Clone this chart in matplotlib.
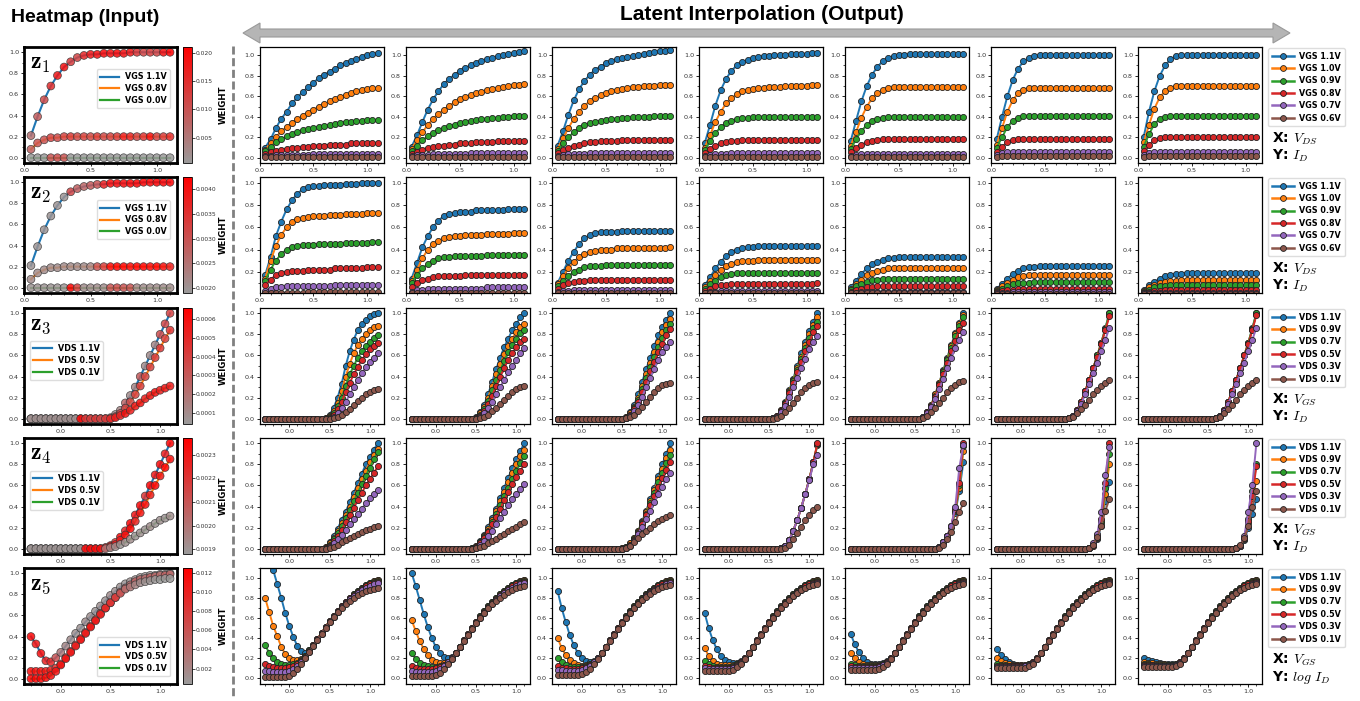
import numpy as np
import matplotlib
matplotlib.use("Agg")
import matplotlib.pyplot as plt
from matplotlib.colors import LinearSegmentedColormap, Normalize
from matplotlib.ticker import MultipleLocator, AutoMinorLocator, FormatStrFormatter
from matplotlib.lines import Line2D
from matplotlib.patches import Polygon
from matplotlib.cm import ScalarMappable

plt.rcParams['mathtext.fontset'] = 'cm'
plt.rcParams['font.family'] = ['DejaVu Sans']

# ------------------------------------------------------------------ data
VDS = [0.05, 0.10, 0.15, 0.20, 0.25, 0.30, 0.35, 0.40, 0.45, 0.50, 0.55,
       0.60, 0.65, 0.70, 0.75, 0.80, 0.85, 0.90, 0.95, 1.00, 1.05, 1.10]
VGS = [-0.30, -0.25, -0.20, -0.15, -0.10, -0.05, 0.00, 0.05, 0.10, 0.15,
       0.20, 0.25, 0.30, 0.35, 0.40, 0.45, 0.50, 0.55, 0.60, 0.65, 0.70,
       0.75, 0.80, 0.85, 0.90, 0.95, 1.00, 1.05, 1.10]

OUT_VGS_LABELS = ['VGS 1.1V', 'VGS 1.0V', 'VGS 0.9V', 'VGS 0.8V', 'VGS 0.7V', 'VGS 0.6V']
OUT_VDS_LABELS = ['VDS 1.1V', 'VDS 0.9V', 'VDS 0.7V', 'VDS 0.5V', 'VDS 0.3V', 'VDS 0.1V']
HM_VGS_LABELS = ['VGS 1.1V', 'VGS 0.8V', 'VGS 0.0V']
HM_VDS_LABELS = ['VDS 1.1V', 'VDS 0.5V', 'VDS 0.1V']

# values in percent of normalised current (y*100)
# ---- row 1 : ID vs VDS
R1P1 = [[10,18,29,38,45,53,59,64,69,73, 78,81,84,87,90,92,94,96,98,100, 101,102],
        [8,14,20,26,30,34,38,41,44,47, 50,52,55,57,59,61,63,65,66,67, 68,68],
        [7,11,15,18,21,23,25,27,28,29, 30,31,32,33,34,35,35,36,36,37, 37,37],
        [4,6,7,8,9,10,10,11,11,12, 12,12,13,13,13,13,14,14,14,14, 14,14],
        [2,2,3,3,3,3,3,3,3,4, 4,4,4,4,4,4,4,4,4,4, 4,4],
        [1,1,1,1,1,1,1,1,1,1, 1,1,1,1,1,1,1,1,1,1, 1,1]]
R1P2 = [[11,22,35,47,57,65,72,77,81,85, 88,90,92,94,96,97,99,100,101,102, 103,104],
        [9,17,25,32,38,43,47,51,54,57, 59,61,63,64,66,67,68,69,70,71, 71,72],
        [7,12,17,21,24,27,29,31,32,34, 35,36,37,38,38,39,39,40,40,41, 41,41],
        [4,6,8,10,11,12,12,13,13,14, 14,14,15,15,15,15,16,16,16,16, 16,16],
        [2,3,3,3,4,4,4,4,4,4, 4,5,5,5,5,5,5,5,5,5, 5,5],
        [1,1,1,1,1,1,1,1,1,1, 1,1,1,1,1,1,1,1,1,1, 1,1]]
R1P3 = [[12,26,42,56,67,75,81,86,89,92, 94,96,97,98,99,100,101,102,103,104, 104,105],
        [9,19,29,38,45,51,55,58,61,63, 65,66,67,68,69,69,70,70,70,71, 71,71],
        [7,14,20,25,29,32,34,35,36,37, 38,38,39,39,40,40,40,40,41,41, 41,41],
        [5,8,10,12,13,14,15,15,16,16, 16,16,17,17,17,17,17,17,17,17, 17,17],
        [2,3,4,4,4,4,5,5,5,5, 5,5,5,5,5,5,5,5,5,5, 5,5],
        [1,1,1,1,1,1,1,1,1,1, 1,1,1,1,1,1,1,1,1,1, 1,1]]
R1P4 = [[14,32,51,66,77,85,90,93,95,97, 98,99,99,100,100,100,101,101,101,101, 102,102],
        [10,22,35,45,53,58,62,65,66,67, 68,68,69,69,69,70,70,70,70,70, 71,71],
        [8,16,24,30,34,36,38,39,39,40, 40,40,40,40,40,40,40,40,40,40, 40,40],
        [5,9,12,14,15,16,16,17,17,17, 17,17,17,17,17,17,17,17,17,17, 17,17],
        [2,3,4,4,4,5,5,5,5,5, 5,5,5,5,5,5,5,5,5,5, 5,5],
        [1,1,1,1,1,1,1,1,1,1, 1,1,1,1,1,1,1,1,1,1, 1,1]]
R1P5 = [[16,36,55,70,81,89,94,97,99,100, 100,101,101,101,101,101,101,101,101,101, 101,101],
        [12,25,39,50,58,63,66,68,69,69, 69,69,69,69,69,69,69,69,69,69, 69,69],
        [9,18,26,32,36,38,39,40,40,40, 40,40,40,40,40,40,40,40,40,40, 40,40],
        [6,10,13,15,16,17,18,18,18,18, 18,18,18,18,18,18,18,18,18,18, 18,18],
        [2,3,4,4,4,4,4,4,4,4, 4,4,4,4,4,4,4,4,4,4, 4,4],
        [1,1,1,1,1,1,1,1,1,1, 1,1,1,1,1,1,1,1,1,1, 1,1]]
R1P6 = [[18,40,60,76,87,94,97,99,100,100, 100,100,100,100,100,100,100,100,100,100, 100,100],
        [13,29,45,56,63,66,68,68,68,68, 68,68,68,68,68,68,68,68,68,68, 68,68],
        [10,20,30,36,39,41,41,41,41,41, 41,41,41,41,41,41,41,41,41,41, 41,41],
        [6,11,15,17,18,18,18,18,18,18, 18,18,18,18,18,18,18,18,18,18, 18,18],
        [3,5,6,6,6,6,6,6,6,6, 6,6,6,6,6,6,6,6,6,6, 6,6],
        [1,2,2,2,2,2,2,2,2,2, 2,2,2,2,2,2,2,2,2,2, 2,2]]
R1P7 = [[20,45,65,80,90,96,99,100,100,100, 100,100,100,100,100,100,100,100,100,100, 100,100],
        [15,32,48,59,65,68,70,70,70,70, 70,70,70,70,70,70,70,70,70,70, 70,70],
        [11,23,33,38,40,41,41,41,41,41, 41,41,41,41,41,41,41,41,41,41, 41,41],
        [7,13,17,19,20,20,20,20,20,20, 20,20,20,20,20,20,20,20,20,20, 20,20],
        [3,5,6,6,6,6,6,6,6,6, 6,6,6,6,6,6,6,6,6,6, 6,6],
        [1,2,2,2,2,2,2,2,2,2, 2,2,2,2,2,2,2,2,2,2, 2,2]]

# ---- row 2 : ID vs VDS (decreasing scale)
R2P1 = [[17,33,52,65,76,84,90,94,96,97, 97,98,98,98,98,99,99,99,100,100, 100,100],
        [14,30,43,53,60,65,67,68,69,70, 70,70,71,71,71,72,72,72,72,73, 73,73],
        [12,22,30,36,40,42,43,44,44,44, 45,45,45,45,45,46,46,46,46,46, 47,47],
        [8,13,17,19,20,21,21,21,22,22, 22,22,22,23,23,23,23,23,23,24, 24,24],
        [3,5,6,6,7,7,7,7,7,7, 7,7,7,8,8,8,8,8,8,8, 8,8],
        [1,1,1,1,1,1,1,1,2,2, 2,2,2,2,2,2,2,2,2,2, 2,2]]
R2P2 = [[14,28,42,52,60,66,70,72,73,74, 74,74,75,75,75,75,75,75,76,76, 76,76],
        [12,22,32,40,45,48,50,51,52,52, 53,53,53,53,54,54,54,54,54,55, 55,55],
        [10,17,23,27,30,32,33,33,34,34, 34,34,34,34,35,35,35,35,35,35, 35,35],
        [6,10,13,14,15,16,16,16,16,16, 17,17,17,17,17,17,17,17,17,17, 17,17],
        [2,4,4,5,5,5,5,5,5,5, 5,5,5,5,6,6,6,6,6,6, 6,6],
        [1,1,1,1,1,1,1,1,1,1, 1,1,1,1,1,1,1,1,1,1, 1,1]]
R2P3 = [[10,20,30,38,45,50,53,55,56,56, 56,56,57,57,57,57,57,57,57,57, 57,57],
        [9,16,23,29,33,36,38,39,40,40, 40,41,41,41,41,41,41,41,41,41, 41,42],
        [7,12,16,20,22,24,25,25,25,26, 26,26,26,26,26,26,26,26,26,26, 26,26],
        [5,8,10,11,12,12,13,13,13,13, 13,13,13,13,13,13,13,13,13,13, 13,13],
        [2,3,3,4,4,4,4,4,4,4, 4,4,4,4,4,4,4,4,4,4, 4,4],
        [1,1,1,1,1,1,1,1,1,1, 1,1,1,1,1,1,1,1,1,1, 1,1]]
R2P4 = [[8,15,23,29,34,38,40,41,42,42, 43,43,43,43,43,43,43,43,43,43, 43,43],
        [6,12,17,22,25,27,29,30,30,30, 31,31,31,31,31,31,31,31,31,31, 31,31],
        [5,9,12,15,17,18,19,19,19,19, 19,19,19,19,19,19,19,19,19,19, 19,19],
        [3,5,7,8,8,9,9,9,9,9, 9,9,9,9,9,9,9,9,9,9, 9,10],
        [1,2,2,3,3,3,3,3,3,3, 3,3,3,3,3,3,3,3,3,3, 3,3],
        [1,1,1,1,1,1,1,1,1,1, 1,1,1,1,1,1,1,1,1,1, 1,1]]
R2P5 = [[6,12,18,23,27,29,31,32,32,33, 33,33,33,33,33,33,33,33,33,33, 33,33],
        [5,9,13,17,19,21,22,23,23,23, 23,23,23,23,23,23,23,23,23,23, 23,23],
        [4,7,9,11,13,13,14,14,14,14, 14,14,14,14,14,14,14,14,14,14, 14,14],
        [2,4,5,6,6,7,7,7,7,7, 7,7,7,7,7,7,7,7,7,7, 7,7],
        [1,1,2,2,2,2,2,2,2,2, 2,2,2,2,2,2,2,2,2,2, 2,2],
        [1,1,1,1,1,1,1,1,1,1, 1,1,1,1,1,1,1,1,1,1, 1,1]]
R2P6 = [[5,9,14,18,21,23,24,24,25,25, 25,25,25,25,25,25,25,25,25,25, 25,25],
        [4,7,10,13,15,16,17,17,17,17, 17,17,17,17,17,17,17,17,17,17, 17,17],
        [3,5,7,9,10,10,10,11,11,11, 11,11,11,11,11,11,11,11,11,11, 11,11],
        [2,3,4,4,5,5,5,5,5,5, 5,5,5,5,5,5,5,5,5,5, 5,5],
        [1,1,1,2,2,2,2,2,2,2, 2,2,2,2,2,2,2,2,2,2, 2,2],
        [0,0,0,0,0,0,0,0,0,0, 0,0,0,0,0,0,0,0,0,0, 0,0]]
R2P7 = [[4,8,11,14,16,17,18,18,19,19, 19,19,19,19,19,19,19,19,19,19, 19,19],
        [3,6,8,10,11,12,12,13,13,13, 13,13,13,13,13,13,13,13,13,13, 13,13],
        [2,4,6,7,7,8,8,8,8,8, 8,8,8,8,8,8,8,8,8,8, 8,8],
        [1,2,3,3,4,4,4,4,4,4, 4,4,4,4,4,4,4,4,4,4, 4,4],
        [1,1,1,1,1,1,1,1,1,1, 1,1,1,1,1,1,1,1,1,1, 1,1],
        [0,0,0,0,0,0,0,0,0,0, 0,0,0,0,0,0,0,0,0,0, 0,0]]

# ---- row 3 : ID vs VGS
R3P1 = [[0,0,0,0,0,0,0,0,0,0,0,0,0,0,0, 1,4,10,20,33,50,64,75,84,90,94,97,99,100],
        [0,0,0,0,0,0,0,0,0,0,0,0,0,0,0, 1,3,7,15,26,40,52,62,70,76,80,84,87,88],
        [0,0,0,0,0,0,0,0,0,0,0,0,0,0,0, 0,2,5,12,20,31,42,50,58,64,69,73,77,79],
        [0,0,0,0,0,0,0,0,0,0,0,0,0,0,0, 0,1,4,9,16,25,34,42,49,56,61,66,69,72],
        [0,0,0,0,0,0,0,0,0,0,0,0,0,0,0, 0,0,2,5,10,16,23,30,37,43,49,54,58,62],
        [0,0,0,0,0,0,0,0,0,0,0,0,0,0,0, 0,0,1,2,4,6,9,13,17,20,23,25,27,28]]
R3P2 = [[0,0,0,0,0,0,0,0,0,0,0,0,0,0,0, 0,2,6,13,23,35,47,58,68,76,84,90,96,100],
        [0,0,0,0,0,0,0,0,0,0,0,0,0,0,0, 0,1,5,11,20,31,42,52,61,69,76,82,87,90],
        [0,0,0,0,0,0,0,0,0,0,0,0,0,0,0, 0,1,4,9,17,27,37,46,55,63,70,76,81,84],
        [0,0,0,0,0,0,0,0,0,0,0,0,0,0,0, 0,1,3,7,14,22,31,40,48,56,62,68,73,76],
        [0,0,0,0,0,0,0,0,0,0,0,0,0,0,0, 0,0,2,5,10,16,23,30,37,44,50,56,62,67],
        [0,0,0,0,0,0,0,0,0,0,0,0,0,0,0, 0,0,1,2,4,7,10,14,18,22,25,28,30,31]]
R3P3 = [[0,0,0,0,0,0,0,0,0,0,0,0,0,0,0, 0,0,2,6,13,23,35,47,58,69,79,87,94,100],
        [0,0,0,0,0,0,0,0,0,0,0,0,0,0,0, 0,0,2,5,11,20,31,42,53,63,73,82,89,95],
        [0,0,0,0,0,0,0,0,0,0,0,0,0,0,0, 0,0,1,4,10,18,28,39,49,59,68,77,84,90],
        [0,0,0,0,0,0,0,0,0,0,0,0,0,0,0, 0,0,1,4,9,16,25,35,45,54,63,71,79,85],
        [0,0,0,0,0,0,0,0,0,0,0,0,0,0,0, 0,0,1,3,7,13,21,30,39,47,56,63,68,73],
        [0,0,0,0,0,0,0,0,0,0,0,0,0,0,0, 0,0,1,2,4,7,11,16,21,25,29,32,33,34]]
R3P4 = [[0,0,0,0,0,0,0,0,0,0,0,0,0,0,0, 0,0,1,3,8,16,27,38,50,62,73,83,92,100],
        [0,0,0,0,0,0,0,0,0,0,0,0,0,0,0, 0,0,1,3,8,15,26,37,48,59,70,80,89,96],
        [0,0,0,0,0,0,0,0,0,0,0,0,0,0,0, 0,0,1,3,7,15,25,36,46,57,67,77,86,92],
        [0,0,0,0,0,0,0,0,0,0,0,0,0,0,0, 0,0,1,3,7,14,24,34,44,54,64,73,82,88],
        [0,0,0,0,0,0,0,0,0,0,0,0,0,0,0, 0,0,1,2,6,12,21,30,39,48,57,66,73,78],
        [0,0,0,0,0,0,0,0,0,0,0,0,0,0,0, 0,0,0,1,3,6,10,15,20,25,29,32,34,35]]
R3P5 = [[0,0,0,0,0,0,0,0,0,0,0,0,0,0,0, 0,0,0,2,6,13,23,34,46,58,70,81,91,100],
        [0,0,0,0,0,0,0,0,0,0,0,0,0,0,0, 0,0,0,2,6,13,23,34,45,57,69,80,90,98],
        [0,0,0,0,0,0,0,0,0,0,0,0,0,0,0, 0,0,0,2,6,12,22,33,44,56,67,78,88,96],
        [0,0,0,0,0,0,0,0,0,0,0,0,0,0,0, 0,0,0,2,6,12,21,32,42,53,64,74,84,91],
        [0,0,0,0,0,0,0,0,0,0,0,0,0,0,0, 0,0,0,2,5,11,19,28,38,48,58,67,75,82],
        [0,0,0,0,0,0,0,0,0,0,0,0,0,0,0, 0,0,0,1,3,6,10,15,20,25,29,32,35,36]]
R3P6 = [[0,0,0,0,0,0,0,0,0,0,0,0,0,0,0, 0,0,0,1,3,8,16,26,37,48,60,72,86,100],
        [0,0,0,0,0,0,0,0,0,0,0,0,0,0,0, 0,0,0,1,3,8,16,26,37,48,60,72,85,99],
        [0,0,0,0,0,0,0,0,0,0,0,0,0,0,0, 0,0,0,1,3,8,16,26,37,48,60,72,85,100],
        [0,0,0,0,0,0,0,0,0,0,0,0,0,0,0, 0,0,0,1,3,8,16,26,37,48,59,71,84,97],
        [0,0,0,0,0,0,0,0,0,0,0,0,0,0,0, 0,0,0,1,3,7,14,23,33,43,53,64,75,86],
        [0,0,0,0,0,0,0,0,0,0,0,0,0,0,0, 0,0,0,1,2,5,9,13,18,23,27,31,34,37]]
R3P7 = [[0,0,0,0,0,0,0,0,0,0,0,0,0,0,0, 0,0,0,1,3,8,16,26,37,48,60,72,86,100],
        [0,0,0,0,0,0,0,0,0,0,0,0,0,0,0, 0,0,0,1,3,8,16,26,37,48,60,72,85,99],
        [0,0,0,0,0,0,0,0,0,0,0,0,0,0,0, 0,0,0,1,3,8,16,26,37,48,60,72,85,100],
        [0,0,0,0,0,0,0,0,0,0,0,0,0,0,0, 0,0,0,1,3,8,16,26,37,48,60,71,84,98],
        [0,0,0,0,0,0,0,0,0,0,0,0,0,0,0, 0,0,0,1,3,7,14,23,33,43,53,64,75,86],
        [0,0,0,0,0,0,0,0,0,0,0,0,0,0,0, 0,0,0,1,2,5,9,13,18,23,27,31,34,37]]

# ---- row 4 : ID vs VGS
R4P1 = [[0,0,0,0,0,0,0,0,0,0,0,0,0,0,0, 2,6,12,19,27,35,44,53,62,71,80,87,94,100],
        [0,0,0,0,0,0,0,0,0,0,0,0,0,0,0, 2,5,10,17,24,32,40,49,58,66,74,82,89,95],
        [0,0,0,0,0,0,0,0,0,0,0,0,0,0,0, 1,4,9,15,22,29,37,45,53,61,69,77,85,92],
        [0,0,0,0,0,0,0,0,0,0,0,0,0,0,0, 1,3,7,12,18,25,32,39,46,53,60,66,72,78],
        [0,0,0,0,0,0,0,0,0,0,0,0,0,0,0, 0,2,5,9,13,18,23,28,33,38,43,48,52,56],
        [0,0,0,0,0,0,0,0,0,0,0,0,0,0,0, 0,1,2,4,6,8,10,12,14,16,18,19,21,22]]
R4P2 = [[0,0,0,0,0,0,0,0,0,0,0,0,0,0,0, 1,3,7,13,21,29,38,48,58,67,77,85,93,100],
        [0,0,0,0,0,0,0,0,0,0,0,0,0,0,0, 1,3,6,12,19,27,36,45,54,63,72,80,88,94],
        [0,0,0,0,0,0,0,0,0,0,0,0,0,0,0, 1,2,6,11,17,25,33,41,50,58,66,74,81,88],
        [0,0,0,0,0,0,0,0,0,0,0,0,0,0,0, 0,2,5,10,16,23,30,38,46,54,61,68,74,80],
        [0,0,0,0,0,0,0,0,0,0,0,0,0,0,0, 0,1,4,7,12,17,23,29,35,41,47,52,57,61],
        [0,0,0,0,0,0,0,0,0,0,0,0,0,0,0, 0,1,2,3,5,7,9,12,14,17,19,21,23,25]]
R4P3 = [[0,0,0,0,0,0,0,0,0,0,0,0,0,0,0, 0,1,2,5,10,17,26,36,47,58,69,80,90,100],
        [0,0,0,0,0,0,0,0,0,0,0,0,0,0,0, 0,1,2,5,10,17,25,35,45,56,66,76,86,94],
        [0,0,0,0,0,0,0,0,0,0,0,0,0,0,0, 0,0,2,4,9,16,24,33,43,53,63,72,81,89],
        [0,0,0,0,0,0,0,0,0,0,0,0,0,0,0, 0,0,1,4,8,15,23,32,41,50,59,67,75,82],
        [0,0,0,0,0,0,0,0,0,0,0,0,0,0,0, 0,0,1,3,7,14,21,28,36,44,52,59,66,72],
        [0,0,0,0,0,0,0,0,0,0,0,0,0,0,0, 0,0,1,3,6,10,14,17,20,23,26,28,30,32]]
R4P4 = [[0,0,0,0,0,0,0,0,0,0,0,0,0,0,0, 0,0,0,0,1,3,8,17,27,39,52,66,82,98],
        [0,0,0,0,0,0,0,0,0,0,0,0,0,0,0, 0,0,0,0,1,3,8,17,27,39,52,66,82,99],
        [0,0,0,0,0,0,0,0,0,0,0,0,0,0,0, 0,0,0,0,1,3,8,17,27,39,52,66,82,99],
        [0,0,0,0,0,0,0,0,0,0,0,0,0,0,0, 0,0,0,0,1,3,8,17,27,39,52,66,82,100],
        [0,0,0,0,0,0,0,0,0,0,0,0,0,0,0, 0,0,0,0,1,3,8,17,27,39,52,65,80,89],
        [0,0,0,0,0,0,0,0,0,0,0,0,0,0,0, 0,0,0,0,0,1,4,9,15,21,27,32,37,40]]
R4P5 = [[0,0,0,0,0,0,0,0,0,0,0,0,0,0,0, 0,0,0,0,0,0,0,2,6,12,21,34,55,82],
        [0,0,0,0,0,0,0,0,0,0,0,0,0,0,0, 0,0,0,0,0,0,0,2,6,12,21,36,58,93],
        [0,0,0,0,0,0,0,0,0,0,0,0,0,0,0, 0,0,0,0,0,0,0,2,6,12,22,37,60,97],
        [0,0,0,0,0,0,0,0,0,0,0,0,0,0,0, 0,0,0,0,0,0,0,2,6,12,22,38,62,100],
        [0,0,0,0,0,0,0,0,0,0,0,0,0,0,0, 0,0,0,0,0,0,0,2,6,12,22,40,77,98],
        [0,0,0,0,0,0,0,0,0,0,0,0,0,0,0, 0,0,0,0,0,0,0,1,4,9,16,25,35,43]]
R4P6 = [[0,0,0,0,0,0,0,0,0,0,0,0,0,0,0, 0,0,0,0,0,0,0,0,1,3,9,22,45,63],
        [0,0,0,0,0,0,0,0,0,0,0,0,0,0,0, 0,0,0,0,0,0,0,0,1,3,10,24,52,80],
        [0,0,0,0,0,0,0,0,0,0,0,0,0,0,0, 0,0,0,0,0,0,0,0,1,4,11,26,58,90],
        [0,0,0,0,0,0,0,0,0,0,0,0,0,0,0, 0,0,0,0,0,0,0,0,1,4,12,28,62,100],
        [0,0,0,0,0,0,0,0,0,0,0,0,0,0,0, 0,0,0,0,0,0,0,0,1,5,14,35,70,96],
        [0,0,0,0,0,0,0,0,0,0,0,0,0,0,0, 0,0,0,0,0,0,0,0,1,4,11,22,36,47]]
R4P7 = [[0,0,0,0,0,0,0,0,0,0,0,0,0,0,0, 0,0,0,0,0,0,0,0,1,3,8,20,33,47],
        [0,0,0,0,0,0,0,0,0,0,0,0,0,0,0, 0,0,0,0,0,0,0,0,1,3,9,24,48,64],
        [0,0,0,0,0,0,0,0,0,0,0,0,0,0,0, 0,0,0,0,0,0,0,0,1,3,10,28,55,80],
        [0,0,0,0,0,0,0,0,0,0,0,0,0,0,0, 0,0,0,0,0,0,0,0,1,3,10,26,50,78],
        [0,0,0,0,0,0,0,0,0,0,0,0,0,0,0, 0,0,0,0,0,0,0,0,1,3,12,35,60,100],
        [0,0,0,0,0,0,0,0,0,0,0,0,0,0,0, 0,0,0,0,0,0,0,0,1,4,10,22,40,55]]

# ---- row 5 : log ID vs VGS
R5P1 = [[138,123,108,94,80,65,52,41,32,27, 25,28,33,39,45,51,57,62,67,72, 76,80,84,87,90,93,95,97,98],
        [80,66,52,42,31,24,20,18,18,19, 22,28,33,39,45,51,57,62,67,72, 76,80,84,87,90,93,95,97,98],
        [33,25,20,16,14,13,13,14,15,18, 22,28,33,39,45,51,57,62,67,72, 76,80,84,87,90,93,95,96,97],
        [14,12,11,10,10,10,11,12,14,17, 21,27,33,39,45,51,57,62,67,72, 76,80,83,86,89,92,94,95,96],
        [7,7,6,6,6,6,7,9,12,16, 20,26,32,38,44,50,56,61,66,71, 75,79,82,85,88,90,92,94,95],
        [1,1,1,1,1,1,2,5,9,14, 20,26,32,38,44,50,56,61,66,70, 74,77,80,83,85,87,88,89,90]]
R5P2 = [[105,92,78,64,51,40,31,25,21,20, 21,25,31,38,44,50,56,62,67,72, 76,80,84,87,90,93,95,97,98],
        [58,47,37,29,23,18,16,15,15,16, 19,25,31,38,44,50,56,62,67,72, 76,80,84,87,90,93,95,97,98],
        [25,19,15,13,12,11,11,12,13,16, 20,25,31,38,44,50,56,62,67,72, 76,80,84,87,90,93,95,96,97],
        [12,10,9,9,9,9,10,11,13,16, 20,25,31,38,44,50,56,61,66,71, 75,79,83,86,89,92,94,95,96],
        [7,6,6,6,6,6,7,9,12,16, 20,25,31,37,43,49,55,60,65,70, 74,78,82,85,88,90,92,94,95],
        [2,2,2,2,2,2,3,5,9,14, 19,25,31,37,43,49,55,60,65,70, 74,77,80,83,86,88,90,91,92]]
R5P3 = [[87,70,56,43,33,25,20,17,16,17, 20,25,31,38,44,50,56,62,67,72, 76,80,84,87,90,93,95,97,98],
        [40,30,23,18,15,13,12,13,14,16, 20,25,31,38,44,50,56,62,67,72, 76,80,84,87,90,93,95,97,98],
        [20,16,13,11,11,11,11,12,14,16, 20,25,31,38,44,50,56,62,67,72, 76,80,84,87,90,93,95,96,97],
        [12,10,10,9,9,9,10,11,13,16, 20,25,31,38,44,50,56,61,66,71, 75,79,83,86,89,92,94,95,96],
        [8,8,7,7,7,7,8,10,12,16, 20,25,31,37,43,49,55,60,65,70, 74,78,82,85,88,90,92,94,95],
        [3,3,3,3,3,3,4,6,9,14, 19,25,31,37,43,49,55,60,65,70, 74,78,81,84,87,89,91,92,93]]
R5P4 = [[65,50,38,29,22,18,16,15,15,17, 20,25,31,38,44,50,56,62,67,72, 76,80,84,87,90,93,95,97,98],
        [30,22,17,14,13,13,13,13,14,16, 20,25,31,38,44,50,56,62,67,72, 76,80,84,87,90,93,95,97,98],
        [17,14,12,11,11,11,11,12,14,16, 20,25,31,38,44,50,56,62,67,72, 76,80,84,87,90,93,95,96,97],
        [12,11,10,10,10,10,10,11,13,16, 20,25,31,38,44,50,56,61,66,71, 75,79,83,86,89,92,94,95,96],
        [10,9,9,9,9,9,9,10,12,15, 19,25,31,37,43,49,55,60,65,70, 74,78,82,85,88,90,92,94,95],
        [7,7,7,7,7,7,7,8,11,14, 19,25,31,37,43,49,55,60,65,70, 74,78,82,85,88,90,92,93,94]]
R5P5 = [[44,34,26,20,16,14,14,14,15,17, 20,25,31,38,44,50,56,62,67,72, 76,80,84,87,90,93,95,97,98],
        [25,20,16,14,13,13,13,13,14,16, 20,25,31,38,44,50,56,62,67,72, 76,80,84,87,90,93,95,97,98],
        [14,13,12,12,12,12,12,12,14,16, 20,25,31,38,44,50,56,62,67,72, 76,80,84,87,90,93,95,96,97],
        [12,11,11,11,11,11,11,12,13,16, 20,25,31,38,44,50,56,61,66,71, 75,79,83,86,89,92,94,95,96],
        [10,10,10,10,10,10,10,11,13,15, 19,25,31,37,43,49,55,60,65,70, 74,78,82,85,88,90,92,94,95],
        [8,8,8,8,8,8,8,9,11,14, 19,25,31,37,43,49,55,60,65,70, 74,78,82,85,88,90,92,93,94]]
R5P6 = [[29,23,19,16,14,13,13,13,14,16, 20,25,31,38,44,50,56,62,67,72, 76,80,84,87,90,93,95,97,98],
        [20,17,15,14,13,13,13,13,14,16, 20,25,31,38,44,50,56,62,67,72, 76,80,84,87,90,93,95,97,98],
        [14,13,13,12,12,12,12,12,14,16, 20,25,31,38,44,50,56,62,67,72, 76,80,84,87,90,93,95,96,97],
        [12,12,12,12,12,12,12,12,13,16, 20,25,31,38,44,50,56,61,66,71, 75,79,83,86,89,92,94,95,96],
        [11,11,11,11,11,11,11,12,13,15, 19,25,31,37,43,49,55,60,65,70, 74,78,82,85,88,90,92,94,95],
        [10,10,10,10,10,10,10,10,12,14, 19,25,31,37,43,49,55,60,65,70, 74,78,82,85,88,90,92,93,94]]
R5P7 = [[20,18,17,16,15,14,14,14,14,16, 20,25,31,38,44,50,56,62,67,72, 76,80,84,87,90,93,95,97,98],
        [16,15,15,14,14,14,13,13,14,16, 20,25,31,38,44,50,56,62,67,72, 76,80,84,87,90,93,95,97,98],
        [14,14,13,13,13,13,13,13,14,16, 20,25,31,38,44,50,56,62,67,72, 76,80,84,87,90,93,95,96,97],
        [13,13,13,12,12,12,12,12,13,16, 20,25,31,38,44,50,56,61,66,71, 75,79,83,86,89,92,94,95,96],
        [12,12,12,12,12,12,12,12,13,15, 19,25,31,37,43,49,55,60,65,70, 74,78,82,85,88,90,92,94,95],
        [11,11,11,11,11,11,11,11,12,14, 19,25,31,37,43,49,55,60,65,70, 74,78,82,85,88,90,92,93,94]]

# ---- heatmap inputs (y in percent, weights in given unit)
HM1_Y = [[21,39,55,68,78,86,91,95,97,98, 98,99,99,99,99,100,100,100,100,100, 100,100],
         [8,14,17,19,19,20,20,20,20,20, 20,20,20,20,20,20,20,20,20,20, 20,20],
         [0,0,0,0,0,0,0,0,0,0, 0,0,0,0,0,0,0,0,0,0, 0,0]]
HM1_W = [[60,90,110,150,180,190,130,120,160,180, 190,200,190,200,190,180,140,120,130,120, 190,210],
         [80,100,100,120,110,120,130,110,120,110, 130,110,120,130,170,160,120,140,190,120, 130,150],
         [6,6,6,100,110,100,6,6,6,6, 6,6,6,6,6,6,6,6,6,6, 6,6]]          # x1e-4
HM2_Y = [[21,39,55,68,78,86,91,94,96,97, 98,98,99,99,99,99,99,100,100,100, 100,100],
         [8,14,17,19,19,20,20,20,20,20, 20,20,20,20,20,20,20,20,20,20, 20,20],
         [0,0,0,0,0,0,0,0,0,0, 0,0,0,0,0,0,0,0,0,0, 0,0]]
HM2_W = [[200,200,200,200,200,200,320,280,270,290, 300,380,410,410,410,420,420,420,420,420, 420,420],
         [210,210,210,210,210,210,210,210,210,220, 300,330,410,420,420,410,420,420,410,420, 400,380],
         [200,200,200,200,200,200,420,330,210,210, 210,210,300,310,300,300,220,210,210,210, 210,210]]  # x1e-5
HM3_Y = [[0,0,0,0,0,0,0,0,0,0,0,0,0,0,0, 0,1,4,8,15,22,30,40,50,60,70,80,90,100],
         [0,0,0,0,0,0,0,0,0,0,0,0,0,0,0, 0,0,2,5,10,16,23,31,40,49,58,67,76,84],
         [0,0,0,0,0,0,0,0,0,0,0,0,0,0,0, 0,0,1,3,5,8,12,15,19,22,25,27,29,31]]
HM3_W = [[8,8,8,8,8,8,8,8,8,8,8,8,8,8,8, 8,8,10,12,25,10,12,30,10,10,12,35,38,40],
         [8,8,8,8,8,8,8,8,8,8,8,8,8,8,8, 30,30,35,40,38,36,40,42,38,40,42,44,40,45],
         [8,8,8,8,8,8,8,8,8,8,65,45,42,44,40, 42,50,55,52,60,55,58,60,55,58,60,55,58,56]]  # x1e-5
HM4_Y = [[0,0,0,0,0,0,0,0,0,0,0,0,0,0,0, 1,3,6,11,17,24,32,41,50,60,70,80,90,100],
         [0,0,0,0,0,0,0,0,0,0,0,0,0,0,0, 1,2,4,8,13,19,26,34,42,51,60,69,77,85],
         [0,0,0,0,0,0,0,0,0,0,0,0,0,0,0, 0,1,2,4,6,9,12,15,18,21,24,27,29,31]]
HM4_W = [[190,190,190,190,190,190,190,190,190,190,190,190,190,190,190, 200,230,220,235,225,236,230,235,220,236,230,234,228,236],
         [190,190,190,190,190,190,190,190,190,190,190,190,190,190,190, 220,225,230,228,232,234,225,230,232,228,234,230,236,232],
         [190,190,190,190,190,190,190,190,190,190,190,235,236,235,234, 200,195,192,190,191,192,190,191,190,192,190,191,190,192]]  # x1e-5
HM5_Y = [[40,33,24,17,16,20,25,31,37,43, 48,54,59,64,69,74,79,83,87,90, 92,94,96,97,98,98,99,99,100],
         [7,7,7,7,8,10,14,20,26,32, 38,44,50,56,62,67,72,77,82,86, 89,92,94,95,96,97,98,98,99],
         [0,0,0,1,3,7,13,19,25,31, 37,43,49,55,61,67,72,77,81,85, 87,89,91,92,93,94,94,95,95]]
HM5_W = [[120,110,115,100,95,60,30,20,15,12, 10,15,12,10,12,10,15,12,10,8, 10,12,10,8,10,8,8,6,6],
         [115,110,112,105,100,90,80,70,60,65, 70,60,55,65,60,50,55,60,50,45, 40,50,45,40,50,45,40,50,45],
         [125,122,120,118,115,110,112,115,110,105, 110,108,112,110,105,100,90,80,60,40, 30,20,15,10,8,6,5,5,5]]  # x1e-4

HM_WEIGHT_UNIT = [1e-4, 1e-5, 1e-5, 1e-5, 1e-4]
HM_CB_RANGE = [(0.0005, 0.021), (0.0019, 0.00425), (0.00004, 0.00066), (0.00188, 0.00237), (0.0004, 0.0125)]
HM_CB_TICKS = [[0.005, 0.010, 0.015, 0.020],
               [0.0020, 0.0025, 0.0030, 0.0035, 0.0040],
               [0.0001, 0.0002, 0.0003, 0.0004, 0.0005, 0.0006],
               [0.0019, 0.0020, 0.0021, 0.0022, 0.0023],
               [0.002, 0.004, 0.006, 0.008, 0.010, 0.012]]
HM_CB_FMT = ['%.3f', '%.4f', '%.4f', '%.4f', '%.3f']

# ------------------------------------------------------------------ figure
W_PX, H_PX = 1360, 701
fig = plt.figure(figsize=(13.6, 7.01), dpi=100)


def rect(l, t, w, h):
    return [l / W_PX, 1 - (t + h) / H_PX, w / W_PX, h / H_PX]


COLORS = ['#1f77b4', '#ff7f0e', '#2ca02c', '#d62728', '#9467bd', '#8c564b']
ROW_TOP = [47, 177, 308, 438, 568]
ROW_H = 116
COL_LEFT = [259.5, 406, 552, 699, 845, 991, 1138]
COL_W = 124
TICK_FS = 4.6


def style_axis(ax, spine_lw):
    ax.tick_params(which='major', labelsize=TICK_FS, length=2.2, width=0.6, pad=1.5,
                   labelcolor='#333333')
    ax.tick_params(which='minor', length=1.2, width=0.5)
    ax.xaxis.set_major_locator(MultipleLocator(0.5))
    ax.xaxis.set_minor_locator(AutoMinorLocator(5))
    ax.yaxis.set_major_locator(MultipleLocator(0.2))
    ax.yaxis.set_minor_locator(AutoMinorLocator(2))
    ax.xaxis.set_major_formatter(FormatStrFormatter('%.1f'))
    ax.yaxis.set_major_formatter(FormatStrFormatter('%.1f'))
    for s in ax.spines.values():
        s.set_linewidth(spine_lw)


OUT_ROWS = [
    (VDS, [R1P1, R1P2, R1P3, R1P4, R1P5, R1P6, R1P7], (-0.05, 1.08), OUT_VGS_LABELS, r'X: $V_{DS}$', r'Y: $I_D$'),
    (VDS, [R2P1, R2P2, R2P3, R2P4, R2P5, R2P6, R2P7], (0.01, 1.05), OUT_VGS_LABELS, r'X: $V_{DS}$', r'Y: $I_D$'),
    (VGS, [R3P1, R3P2, R3P3, R3P4, R3P5, R3P6, R3P7], (-0.05, 1.05), OUT_VDS_LABELS, r'X: $V_{GS}$', r'Y: $I_D$'),
    (VGS, [R4P1, R4P2, R4P3, R4P4, R4P5, R4P6, R4P7], (-0.05, 1.05), OUT_VDS_LABELS, r'X: $V_{GS}$', r'Y: $I_D$'),
    (VGS, [R5P1, R5P2, R5P3, R5P4, R5P5, R5P6, R5P7], (-0.06, 1.10), OUT_VDS_LABELS, r'X: $V_{GS}$', r'Y: $log\ I_D$'),
]

for r, (xs, panels, ylim, labels, xtxt, ytxt) in enumerate(OUT_ROWS):
    for c, series in enumerate(panels):
        ax = fig.add_axes(rect(COL_LEFT[c], ROW_TOP[r], COL_W, ROW_H))
        for k, ys in enumerate(series):
            if len(ys) != len(xs):
                raise ValueError('row %d col %d series %d has %d values' % (r + 1, c + 1, k, len(ys)))
            ax.plot(xs, np.array(ys) / 100.0, '-o', color=COLORS[k], lw=1.4, ms=4.4,
                    mec='#222222', mew=0.6)
        ax.set_ylim(*ylim)
        style_axis(ax, 0.9)
    handles = [Line2D([], [], color=COLORS[k], lw=1.8, marker='o', ms=4.2, mec='#222222', mew=0.6)
               for k in range(6)]
    fig.legend(handles, labels, loc='upper left',
               bbox_to_anchor=(1268 / W_PX, 1 - (ROW_TOP[r] + 1) / H_PX),
               prop=dict(weight='bold', size=5.8), handlelength=2.8, labelspacing=0.42,
               borderpad=0.45, borderaxespad=0, handletextpad=0.6,
               frameon=True, edgecolor='#dddddd', framealpha=1)
    fig.text(1272 / W_PX, 1 - (ROW_TOP[r] + 92) / H_PX, xtxt, fontsize=10, fontweight='bold', va='center')
    fig.text(1272 / W_PX, 1 - (ROW_TOP[r] + 109) / H_PX, ytxt, fontsize=10, fontweight='bold', va='center')

# ---- heatmap column
cmap = LinearSegmentedColormap.from_list('grey_red', ['#9a9a9a', '#ff0000'])
HM_ROWS = [
    (VDS, HM1_Y, HM1_W, HM_VGS_LABELS, dict(loc='center right', bbox_to_anchor=(0.98, 0.64))),
    (VDS, HM2_Y, HM2_W, HM_VGS_LABELS, dict(loc='center right', bbox_to_anchor=(0.98, 0.63))),
    (VGS, HM3_Y, HM3_W, HM_VDS_LABELS, dict(loc='upper left', bbox_to_anchor=(0.01, 0.75))),
    (VGS, HM4_Y, HM4_W, HM_VDS_LABELS, dict(loc='upper left', bbox_to_anchor=(0.01, 0.75))),
    (VGS, HM5_Y, HM5_W, HM_VDS_LABELS, dict(loc='lower right', bbox_to_anchor=(0.98, 0.03))),
]

for r, (xs, ys_list, w_list, labels, legkw) in enumerate(HM_ROWS):
    ax = fig.add_axes(rect(24, ROW_TOP[r], 153, ROW_H))
    norm = Normalize(*HM_CB_RANGE[r])
    for k in range(3):
        ys = np.array(ys_list[k]) / 100.0
        ws = np.array(w_list[k]) * HM_WEIGHT_UNIT[r]
        if len(ys) != len(xs) or len(ws) != len(xs):
            raise ValueError('heatmap %d curve %d length mismatch' % (r + 1, k))
        ax.plot(xs, ys, '-', color=COLORS[k], lw=1.5, zorder=1)
        ax.scatter(xs, ys, c=ws, cmap=cmap, norm=norm, s=32, edgecolors='#333333',
                   linewidths=0.5, alpha=0.85, zorder=2 + k)
    ax.set_ylim(-0.05, 1.05)
    style_axis(ax, 2.0)
    lh = [Line2D([], [], color=COLORS[k], lw=1.6) for k in range(3)]
    ax.legend(lh, labels, prop=dict(weight='bold', size=5.8), handlelength=2.4,
              labelspacing=0.35, borderpad=0.4, handletextpad=0.7, framealpha=1,
              edgecolor='#dddddd', **legkw)
    ax.text(0.04, 0.86, r'$\mathbf{z}_{\mathbf{%d}}$' % (r + 1), transform=ax.transAxes,
            fontsize=17, va='center', ha='left')
    cax = fig.add_axes(rect(183, ROW_TOP[r], 8.5, ROW_H))
    cb = fig.colorbar(ScalarMappable(norm=norm, cmap=cmap), cax=cax)
    cb.set_ticks(HM_CB_TICKS[r])
    cb.ax.yaxis.set_major_formatter(FormatStrFormatter(HM_CB_FMT[r]))
    cb.ax.tick_params(labelsize=4.3, length=2, width=0.5, pad=1.2, labelcolor='#333333')
    cb.outline.set_linewidth(0.6)
    fig.text(223 / W_PX, 1 - (ROW_TOP[r] + ROW_H / 2) / H_PX, 'WEIGHT', rotation=90,
             fontsize=6.2, fontweight='bold', ha='center', va='center')

# ---- titles, arrow and divider
fig.text(85 / W_PX, 1 - 18 / H_PX, 'Heatmap (Input)', ha='center', va='center',
         fontsize=14, fontweight='bold', family=['Liberation Sans', 'DejaVu Sans'])
fig.text(762 / W_PX, 1 - 14 / H_PX, 'Latent Interpolation (Output)', ha='center', va='center',
         fontsize=15, fontweight='bold', family=['Liberation Sans Narrow', 'Liberation Sans', 'DejaVu Sans'])

arrow_px = [(243, 33), (260, 23), (260, 29), (1273, 29), (1273, 23), (1290, 33),
            (1273, 43), (1273, 37), (260, 37), (260, 43)]
arrow = Polygon([(x / W_PX, 1 - y / H_PX) for x, y in arrow_px], closed=True,
                transform=fig.transFigure, facecolor='#b5b5b5', edgecolor='#9a9a9a', lw=0.8)
fig.add_artist(arrow)
fig.add_artist(Line2D([233 / W_PX, 233 / W_PX], [1 - 46 / H_PX, 1 - 697 / H_PX],
                      transform=fig.transFigure, color='#808080', lw=2.0, dashes=(2.9, 1.3)))

fig.savefig('out.png', dpi=100)
